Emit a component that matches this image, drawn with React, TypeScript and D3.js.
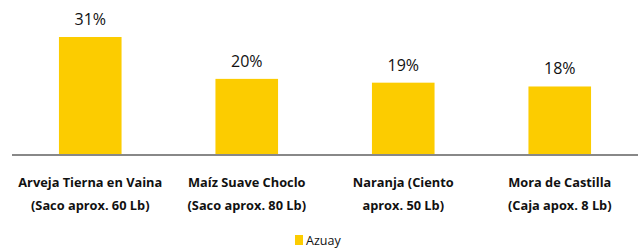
import React, { useRef, useEffect } from 'react';
import * as d3 from 'd3';

const categories = [
  ['Arveja Tierna en Vaina', '(Saco aprox. 60 Lb)'],
  ['Maíz Suave Choclo', '(Saco aprox. 80 Lb)'],
  ['Naranja (Ciento', 'aprox. 50 Lb)'],
  ['Mora de Castilla', '(Caja apox. 8 Lb)'],
];
const azuay = [31, 20, 19, 18];
const seriesName = 'Azuay';

const App = () => {
  const svgRef = useRef<SVGSVGElement>(null);

  useEffect(() => {
    const svg = d3.select(svgRef.current);
    svg.selectAll('*').remove();
    const width = 644;
    const height = 248;
    const left = 12;
    const right = 638;
    const baseY = 155;
    const font = 'Open Sans, sans-serif';

    const x = d3.scaleBand<number>()
      .domain(d3.range(azuay.length))
      .range([left, right])
      .paddingInner(0.6)
      .paddingOuter(0.3);

    const y = d3.scaleLinear().domain([0, 31]).range([baseY, 37]);

    svg.attr('width', width).attr('height', height);

    svg.selectAll('.bar')
      .data(azuay)
      .enter()
      .append('rect')
      .attr('class', 'bar')
      .attr('x', (d, i) => x(i)!)
      .attr('y', d => y(d))
      .attr('width', x.bandwidth())
      .attr('height', d => baseY - y(d))
      .attr('fill', '#FCCC00');

    svg.append('line')
      .attr('x1', left).attr('x2', right)
      .attr('y1', baseY).attr('y2', baseY)
      .attr('stroke', '#888')
      .attr('stroke-width', 2);

    svg.selectAll('.val')
      .data(azuay)
      .enter()
      .append('text')
      .attr('x', (d, i) => x(i)! + x.bandwidth() / 2)
      .attr('y', d => y(d) - 12)
      .attr('text-anchor', 'middle')
      .attr('font-family', font)
      .attr('font-size', 16)
      .attr('fill', '#111')
      .text(d => `${d}%`);

    const cat = svg.selectAll('.cat')
      .data(categories)
      .enter()
      .append('text')
      .attr('text-anchor', 'middle')
      .attr('font-family', font)
      .attr('font-size', 12.8)
      .attr('font-weight', 'bold')
      .attr('fill', '#111');
    cat.each(function (d, i) {
      const t = d3.select(this);
      d.forEach((line, j) => {
        t.append('tspan')
          .attr('x', x(i)! + x.bandwidth() / 2)
          .attr('y', 187 + j * 23)
          .text(line);
      });
    });

    svg.append('rect')
      .attr('x', 295).attr('y', 235)
      .attr('width', 8).attr('height', 10)
      .attr('fill', '#FCCC00');
    svg.append('text')
      .attr('x', 306).attr('y', 245)
      .attr('font-family', font)
      .attr('font-size', 12.5)
      .attr('fill', '#111')
      .text(seriesName);
  }, []);

  return <svg ref={svgRef} style={{ position: 'absolute', left: 0, top: 0 }} />;
};

export default App;
